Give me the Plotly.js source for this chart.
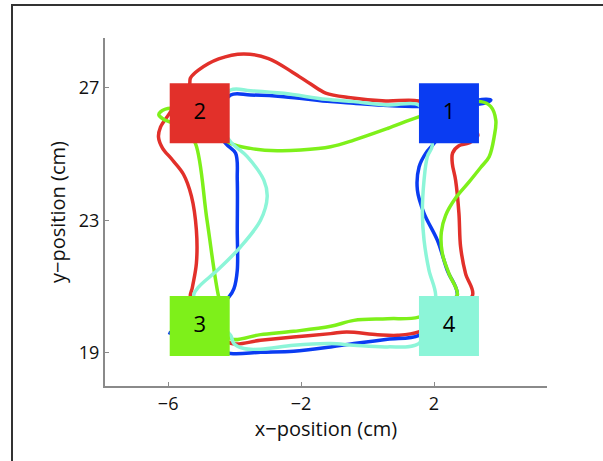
<!DOCTYPE html>
<html>
<head>
<meta charset="utf-8">
<script src="https://cdn.plot.ly/plotly-3.0.1.min.js"></script>
<style>
  html, body { margin: 0; padding: 0; background: #fff; }
  #chart { width: 603px; height: 461px; }
</style>
</head>
<body>
<div id="chart"></div>
<script>
// Target squares (1..4)
const targetX = [2.45, -5.05, -5.05, 2.45];
const targetY = [26.23, 26.23, 19.81, 19.81];
const targetLabels = ['1', '2', '3', '4'];

// Red trajectory
const redX = [1.54,0.55,-0.51,-1.26,-1.71,-2.26,-2.98,-3.73,-4.48,-5.09,-5.33,-5.36,-5.69,-5.99,-6.23,-6.29,-6.17,-5.87,-5.54,-5.30,-5.15,-5.15,-5.27,-5.33,-4.73,-4.12,-3.22,-2.23,-1.11,-0.63,0.30,0.90,1.54,2.35,3.16,2.95,2.80,2.75,2.65,2.55,2.56,2.75,3.05,3.32,2.50,1.54];
const redY = [26.60,26.60,26.70,26.84,27.11,27.47,27.88,28.02,27.87,27.53,27.29,27.08,26.63,26.18,25.81,25.51,25.18,24.82,24.39,23.73,22.70,21.70,20.98,20.65,19.83,19.29,19.38,19.48,19.58,19.63,19.55,19.53,19.63,20.13,20.74,21.39,22.20,23.21,24.21,24.72,25.03,25.25,25.33,25.57,26.18,26.60];

// Blue trajectory
const blueX = [-5.99,-5.03,-4.12,-3.22,-2.22,-1.11,-0.41,0.60,1.55,2.20,2.70,2.40,2.10,1.70,1.50,1.55,1.75,2.00,2.80,3.35,3.71,3.53,3.11,1.55,0.60,-0.41,-1.11,-2.52,-3.52,-4.12,-4.58,-4.27,-3.97,-3.92,-3.92,-3.92,-4.02,-4.17,-5.03,-5.78];
const blueY = [19.62,19.23,18.98,19.02,19.05,19.18,19.28,19.41,19.53,20.13,20.74,21.49,22.40,23.21,23.91,24.61,25.02,25.32,26.33,26.63,26.63,26.54,26.48,26.43,26.46,26.53,26.58,26.73,26.78,26.78,25.87,25.32,25.02,24.21,22.70,21.49,20.94,20.69,19.98,19.68];

// Green trajectory
const greenX = [1.54,0.60,-0.41,-1.11,-2.01,-2.72,-3.52,-4.12,-4.88,-5.63,-5.93,-6.23,-6.28,-6.14,-5.93,-5.48,-5.18,-4.83,-4.48,-4.27,-4.12,-3.22,-2.22,-1.11,-0.41,0.60,1.54,2.20,2.70,2.45,2.25,2.22,2.35,2.65,3.05,3.41,3.66,3.81,3.86,3.71,3.41,2.50,1.54];
const greenY = [26.12,25.77,25.42,25.22,25.12,25.10,25.17,25.32,25.87,26.27,26.38,26.27,26.18,26.05,25.96,25.72,25.32,23.00,20.69,19.98,19.43,19.55,19.65,19.80,19.98,20.03,20.08,20.44,20.74,21.39,22.00,22.64,23.15,23.67,24.15,24.60,24.92,25.52,26.02,26.43,26.58,26.39,26.12];

// Aqua trajectory
const aquaX = [1.54,0.60,-0.42,-1.26,-2.52,-3.52,-4.12,-4.58,-4.12,-3.62,-3.12,-3.02,-3.22,-3.82,-4.52,-5.08,-5.23,-5.03,-4.36,-4.12,-4.02,-3.72,-3.22,-2.22,-1.11,-0.42,0.60,1.54,1.90,2.05,1.85,1.70,1.65,1.70,1.80,1.95,1.75,1.54];
const aquaY = [26.48,26.48,26.58,26.65,26.83,26.91,26.93,26.18,25.37,24.92,24.21,23.71,23.00,22.20,21.49,20.99,20.74,20.28,19.74,19.53,19.28,19.13,19.11,19.23,19.28,19.23,19.18,19.28,19.98,20.74,21.49,22.40,23.21,24.21,24.92,25.27,26.02,26.48];

const xTicks = [-6, -2, 2];
const yTicks = [19, 23, 27];

const RED = '#e2302a', BLUE = '#0a3cf2', GREEN = '#7ef01a', AQUA = '#8cf5d8';
const FONT = '"Open Sans", "DejaVu Sans", sans-serif';

function path(x, y, color) {
  return { type: 'scatter', mode: 'lines', x: x, y: y,
    line: { color: color, width: 3.5, shape: 'spline', smoothing: 1 },
    hoverinfo: 'skip', showlegend: false };
}

const traces = [
  path(redX, redY, RED),
  path(blueX, blueY, BLUE),
  path(greenX, greenY, GREEN),
  path(aquaX, aquaY, AQUA),
  { type: 'scatter', mode: 'markers+text', x: targetX, y: targetY, text: targetLabels,
    textposition: 'middle center',
    textfont: { family: FONT, size: 22, color: '#000' },
    marker: { symbol: 'square', size: 60, color: [BLUE, RED, GREEN, AQUA], line: { width: 0 } },
    hoverinfo: 'skip', showlegend: false }
];

const W = 603, H = 461, L = 105, R = 56, T = 38, B = 75;
const pw = W - L - R, ph = H - T - B;

const layout = {
  width: W, height: H,
  margin: { l: L, r: R, t: T, b: B, pad: 0 },
  paper_bgcolor: '#ffffff', plot_bgcolor: '#ffffff',
  font: { family: FONT, color: '#111' },
  xaxis: {
    range: [-7.9, 5.4], tickvals: xTicks, showgrid: false, zeroline: false,
    showline: true, linecolor: '#8a8a8a', linewidth: 2,
    ticks: 'inside', ticklen: 4, tickcolor: '#8a8a8a', tickwidth: 1,
    tickfont: { family: FONT, size: 18, color: '#111' },
    title: { text: 'x\u2212position (cm)', font: { family: FONT, size: 20, color: '#111' }, standoff: 4 }
  },
  yaxis: {
    range: [18.0, 28.5], tickvals: yTicks, showgrid: false, zeroline: false,
    showline: true, linecolor: '#8a8a8a', linewidth: 2,
    ticks: 'inside', ticklen: 4, tickcolor: '#8a8a8a', tickwidth: 1,
    tickfont: { family: FONT, size: 18, color: '#111' },
    title: { text: 'y\u2212position (cm)', font: { family: FONT, size: 20, color: '#111' }, standoff: 8 }
  },
  shapes: [{
    type: 'rect', xref: 'paper', yref: 'paper', layer: 'above',
    x0: (12 - L) / pw, x1: (W + 30 - L) / pw,
    y0: (H - B - (H + 30)) / ph, y1: (H - B - 5) / ph,
    line: { color: '#333333', width: 2 }, fillcolor: 'rgba(0,0,0,0)'
  }]
};

Plotly.newPlot('chart', traces, layout, { staticPlot: true, displayModeBar: false });
</script>
</body>
</html>
